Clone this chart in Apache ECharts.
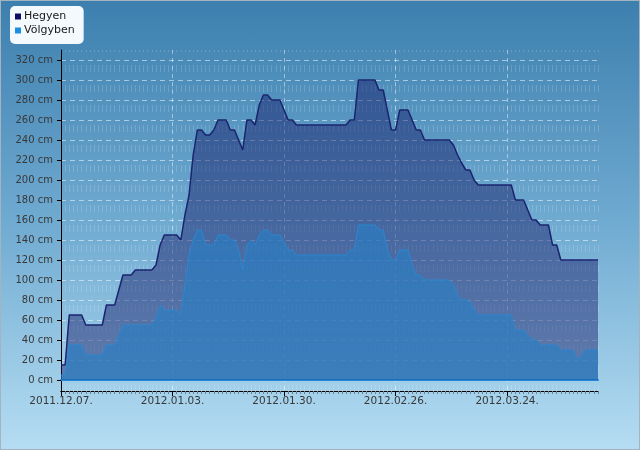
<!DOCTYPE html>
<html><head><meta charset="utf-8">
<script src="https://cdn.jsdelivr.net/npm/echarts@6/dist/echarts.min.js"></script>
<style>
html,body{margin:0;padding:0;}
#wrap{position:relative;width:640px;height:450px;background:linear-gradient(to bottom,#3c7fae 0%,#6ea9d0 48%,#b5ddf3 100%);}
#c{position:absolute;left:0;top:0;width:640px;height:450px;}
#frame{position:absolute;left:0;top:0;width:640px;height:450px;box-sizing:border-box;border:1px solid #a3b3bf;pointer-events:none;}
</style></head>
<body><div id="wrap"><div id="c"></div><div id="frame"></div></div>
<script>
// first day of the series, one value per day
const startDate = '2011-12-07';
const tickLabels = ['2011.12.07.', '2012.01.03.', '2012.01.30.', '2012.02.26.', '2012.03.24.'];
const seriesNames = ['Hegyen', 'Völgyben'];
const hegyen = [
  15,15,65,65,65,65,55,55,55,55,
  55,75,75,75,90,105,105,105,110,110,
  110,110,110,115,135,145,145,145,145,140,
  165,185,225,250,250,245,245,250,260,260,
  260,250,250,240,230,260,260,255,275,285,
  285,280,280,280,270,260,260,255,255,255,
  255,255,255,255,255,255,255,255,255,255,
  260,260,300,300,300,300,300,290,290,270,
  250,250,270,270,270,260,250,250,240,240,
  240,240,240,240,240,235,225,217,210,210,
  200,195,195,195,195,195,195,195,195,195,
  180,180,180,170,160,160,155,155,155,135,
  135,120,120,120,120,120,120,120,120,120,
  120
];
const volgyben = [
  5,5,35,35,35,35,25,25,25,25,
  25,35,35,35,45,55,55,55,55,55,
  55,55,55,62,75,70,70,70,70,65,
  95,125,140,150,150,135,135,135,145,145,
  145,140,140,130,110,135,140,135,145,150,
  150,145,145,145,138,130,130,125,125,125,
  125,125,125,125,125,125,125,125,125,125,
  130,130,155,155,155,155,155,150,150,130,
  120,120,130,130,130,115,105,105,100,100,
  100,100,100,100,100,95,85,80,80,78,
  70,65,65,65,65,65,65,65,65,65,
  50,50,50,45,40,40,35,35,35,35,
  35,30,30,30,30,20,25,30,30,30,
  30
];
const tickStep = 27; // days between date labels
const yMax = 320, yStep = 20;

const lastDay = hegyen.length - 1;
const FONT = 'DejaVu Sans';
const chart = echarts.init(document.getElementById('c'), null, {renderer: 'canvas'});
const majorVals = tickLabels.map((t, i) => i * tickStep);

const option = {
  animation: false,
  textStyle: {fontFamily: FONT},
  legend: {
    left: 10, top: 6, orient: 'vertical',
    backgroundColor: 'rgba(250,253,255,0.97)', borderRadius: 5,
    padding: [4, 9, 7, 5], itemWidth: 6, itemHeight: 6, itemGap: 1, icon: 'rect',
    selectedMode: false,
    textStyle: {fontSize: 11, lineHeight: 13, color: '#1a1a1a', fontFamily: FONT, padding: [0, 0, 0, -2]},
    data: [
      {name: seriesNames[0], itemStyle: {color: '#0d0d63'}},
      {name: seriesNames[1], itemStyle: {color: '#1b8fe0'}}
    ]
  },
  grid: [
    {left: 61, right: 42, top: 60, bottom: 70},
    {left: 61, right: 42, top: 50, bottom: 59}
  ],
  xAxis: [
    {gridIndex: 0, type: 'value', min: 0, max: lastDay,
     axisLine: {show: true, lineStyle: {color: '#2088d6', width: 2}},
     axisTick: {show: false}, axisLabel: {show: false}, splitLine: {show: false}},
    {gridIndex: 1, type: 'value', position: 'bottom', min: 0, max: lastDay, interval: 1,
     axisLine: {show: true, lineStyle: {color: '#000'}},
     axisTick: {show: true, length: 3, lineStyle: {color: '#6c7e8a'}},
     axisLabel: {show: false},
     splitLine: {show: true, lineStyle: {color: 'rgba(255,255,255,0.16)', type: [7, 13], dashOffset: 5}}},
    {gridIndex: 1, type: 'value', position: 'bottom', min: 0, max: lastDay, interval: tickStep,
     axisLine: {show: true, lineStyle: {color: '#000'}},
     axisTick: {show: true, length: 5, lineStyle: {color: '#000'}, customValues: majorVals},
     axisLabel: {fontSize: 10.5, color: '#383838', margin: 5, fontFamily: FONT,
       customValues: majorVals,
       formatter: v => (v % tickStep === 0 && tickLabels[v / tickStep]) ? tickLabels[v / tickStep] : ''},
     splitLine: {show: true, lineStyle: {
       color: ['rgba(255,255,255,0.45)','rgba(255,255,255,0.45)','rgba(255,255,255,0.45)','rgba(255,255,255,0.45)','rgba(255,255,255,0.45)','rgba(0,0,0,0)'],
       type: [4, 4]}}}
  ],
  yAxis: [
    {gridIndex: 0, type: 'value', min: 0, max: yMax, interval: yStep,
     axisLine: {show: false},
     axisTick: {show: true, length: 4, lineStyle: {color: '#000'}},
     axisLabel: {formatter: v => v + ' cm', fontSize: 10, color: '#383838', margin: 8, fontFamily: FONT},
     splitLine: {show: true, lineStyle: {color: 'rgba(255,255,255,0.5)', type: [5, 4]}}},
    {gridIndex: 1, type: 'value', min: 0, max: 1,
     axisLine: {show: true, lineStyle: {color: '#000'}},
     axisTick: {show: false}, axisLabel: {show: false}, splitLine: {show: false}}
  ],
  series: [
    {name: seriesNames[0], type: 'line', xAxisIndex: 0, yAxisIndex: 0,
     data: hegyen.map((v, i) => [i, v]), symbol: 'none',
     lineStyle: {color: '#1b2470', width: 1.5}, itemStyle: {color: '#0d0d63'},
     areaStyle: {color: 'rgba(16,18,98,0.63)'}},
    {name: seriesNames[1], type: 'line', xAxisIndex: 0, yAxisIndex: 0,
     data: volgyben.map((v, i) => [i, v]), symbol: 'none',
     lineStyle: {color: '#2a86d0', width: 1}, itemStyle: {color: '#1b8fe0'},
     areaStyle: {color: 'rgba(40,126,196,0.9)'}}
  ]
};
chart.setOption(option);
</script>
</body></html>
